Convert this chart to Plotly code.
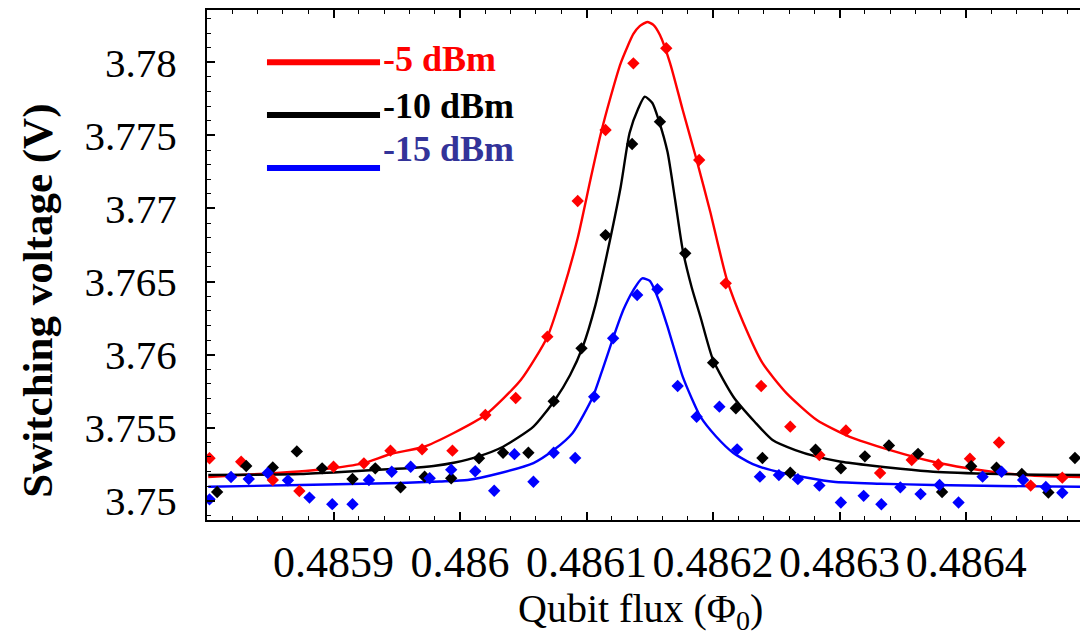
import plotly.graph_objects as go

# ---- measured switching voltages (V) vs qubit flux (Phi_0) ----
flux_m5 = [0.485802, 0.485827, 0.485852, 0.485873, 0.485900, 0.485924, 0.485945, 0.485970,
           0.485994, 0.486020, 0.486044, 0.486069, 0.486093, 0.486115, 0.486137, 0.486163,
           0.486189, 0.486210, 0.486238, 0.486261, 0.486284, 0.486305, 0.486332, 0.486357,
           0.486378, 0.486403, 0.486426, 0.486451, 0.486476]
volt_m5 = [3.75291, 3.75267, 3.75142, 3.75067, 3.75233, 3.75256, 3.75343, 3.75352,
           3.75343, 3.75587, 3.75703, 3.76123, 3.77051, 3.77537, 3.77993, 3.78096,
           3.77332, 3.76488, 3.75785, 3.75507, 3.75313, 3.75481, 3.75190, 3.75279,
           3.75248, 3.75288, 3.75399, 3.75104, 3.75158]

flux_m10 = [0.485808, 0.485831, 0.485852, 0.485871, 0.485891, 0.485915, 0.485933, 0.485953,
            0.485972, 0.485993, 0.486015, 0.486034, 0.486054, 0.486074, 0.486096, 0.486115,
            0.486136, 0.486158, 0.486178, 0.486200, 0.486218, 0.486239, 0.486261, 0.486281,
            0.486301, 0.486320, 0.486339, 0.486362, 0.486381, 0.486404, 0.486424, 0.486444,
            0.486465, 0.486486]
volt_m10 = [3.75060, 3.75238, 3.75228, 3.75338, 3.75222, 3.75149, 3.75222, 3.75092,
            3.75165, 3.75154, 3.75291, 3.75329, 3.75329, 3.75681, 3.76043, 3.76818,
            3.77441, 3.77594, 3.76693, 3.75945, 3.75633, 3.75293, 3.75192, 3.75349,
            3.75222, 3.75304, 3.75378, 3.75321, 3.75060, 3.75236, 3.75226, 3.75183,
            3.75057, 3.75293]

flux_m15 = [0.485802, 0.485819, 0.485833, 0.485848, 0.485864, 0.485881, 0.485899, 0.485915,
            0.485928, 0.485946, 0.485961, 0.485976, 0.485993, 0.486012, 0.486027, 0.486043,
            0.486058, 0.486074, 0.486091, 0.486106, 0.486121, 0.486140, 0.486156, 0.486172,
            0.486187, 0.486205, 0.486219, 0.486237, 0.486252, 0.486267, 0.486284, 0.486301,
            0.486319, 0.486333, 0.486348, 0.486364, 0.486379, 0.486394, 0.486413, 0.486428,
            0.486445, 0.486463, 0.486476]
volt_m15 = [3.75010, 3.75163, 3.75149, 3.75190, 3.75140, 3.75022, 3.74977, 3.74977,
            3.75142, 3.75199, 3.75233, 3.75154, 3.75213, 3.75202, 3.75069, 3.75319,
            3.75130, 3.75329, 3.75293, 3.75712, 3.76112, 3.76408, 3.76447, 3.75785,
            3.75575, 3.75644, 3.75352, 3.75165, 3.75176, 3.75148, 3.75104, 3.74988,
            3.75034, 3.74976, 3.75092, 3.75046, 3.75108, 3.74988, 3.75165, 3.75199,
            3.75142, 3.75094, 3.75055]

# ---- fitted resonance curves, sampled along the flux axis ----
fit_flux_m5 = [0.485801, 0.485834, 0.485858, 0.485882, 0.485900, 0.485924, 0.485945, 0.485971,
               0.485995, 0.486020, 0.486048, 0.486069, 0.486081, 0.486093, 0.486103, 0.486111,
               0.486119, 0.486127, 0.486137, 0.486142, 0.486148, 0.486153, 0.486158, 0.486166,
               0.486176, 0.486187, 0.486198, 0.486204, 0.486211, 0.486224, 0.486239, 0.486258,
               0.486282, 0.486308, 0.486340, 0.486374, 0.486400, 0.486426, 0.486452, 0.486490]
fit_volt_m5 = [3.75163, 3.75180, 3.75192, 3.75207, 3.75224, 3.75258, 3.75320, 3.75368,
               3.75464, 3.75587, 3.75826, 3.76121, 3.76428, 3.76798, 3.77195, 3.77503,
               3.77763, 3.77995, 3.78194, 3.78248, 3.78276, 3.78255, 3.78187, 3.77995,
               3.77674, 3.77332, 3.76969, 3.76750, 3.76511, 3.76216, 3.75943, 3.75737,
               3.75553, 3.75438, 3.75347, 3.75267, 3.75224, 3.75193, 3.75173, 3.75163]

fit_flux_m10 = [0.485801, 0.485834, 0.485874, 0.485906, 0.485932, 0.485961, 0.485979, 0.485996,
                0.486014, 0.486034, 0.486058, 0.486075, 0.486087, 0.486097, 0.486107, 0.486116,
                0.486127, 0.486134, 0.486141, 0.486146, 0.486152, 0.486157, 0.486164, 0.486170,
                0.486176, 0.486183, 0.486190, 0.486200, 0.486216, 0.486233, 0.486247, 0.486265,
                0.486282, 0.486300, 0.486321, 0.486348, 0.486374, 0.486426, 0.486458, 0.486490]
fit_volt_m10 = [3.75176, 3.75178, 3.75183, 3.75197, 3.75211, 3.75224, 3.75238, 3.75262,
                3.75302, 3.75370, 3.75507, 3.75690, 3.75861, 3.76054, 3.76339, 3.76682,
                3.77149, 3.77516, 3.77687, 3.77765, 3.77722, 3.77605, 3.77386, 3.77058,
                3.76716, 3.76463, 3.76259, 3.75963, 3.75712, 3.75539, 3.75416, 3.75347,
                3.75302, 3.75269, 3.75245, 3.75219, 3.75199, 3.75183, 3.75178, 3.75176]

fit_flux_m15 = [0.485801, 0.485874, 0.485953, 0.485984, 0.486006, 0.486032, 0.486058, 0.486074,
                0.486089, 0.486105, 0.486113, 0.486121, 0.486129, 0.486137, 0.486144, 0.486150,
                0.486157, 0.486164, 0.486170, 0.486176, 0.486183, 0.486190, 0.486202, 0.486216,
                0.486233, 0.486255, 0.486295, 0.486332, 0.486374, 0.486426, 0.486490]
fit_volt_m15 = [3.75096, 3.75108, 3.75122, 3.75132, 3.75142, 3.75190, 3.75258, 3.75347,
                3.75464, 3.75712, 3.75908, 3.76114, 3.76305, 3.76442, 3.76522, 3.76504,
                3.76374, 3.76191, 3.76018, 3.75849, 3.75703, 3.75575, 3.75443, 3.75327,
                3.75245, 3.75190, 3.75130, 3.75117, 3.75108, 3.75101, 3.75096]

# ---- axis ticks ----
x_tickvals = [0.4859, 0.4860, 0.4861, 0.4862, 0.4863, 0.4864]
x_ticktext = ["0.4859", "0.486", "0.4861", "0.4862", "0.4863", "0.4864"]
y_tickvals = [3.750, 3.755, 3.760, 3.765, 3.770, 3.775, 3.780]
y_ticktext = ["3.75", "3.755", "3.76", "3.765", "3.77", "3.775", "3.78"]

series = [
    ("-5 dBm", "#ff0000", "#ff0000", fit_flux_m5, fit_volt_m5, flux_m5, volt_m5),
    ("-10 dBm", "#000000", "#000000", fit_flux_m10, fit_volt_m10, flux_m10, volt_m10),
    ("-15 dBm", "#0000ff", "#333399", fit_flux_m15, fit_volt_m15, flux_m15, volt_m15),
]

SERIF = "Liberation Serif, Times New Roman, serif"

fig = go.Figure()
for name, color, _, fx, fy, _, _ in series:
    fig.add_trace(go.Scatter(x=fx, y=fy, mode="lines", name=name + " fit",
                             line=dict(color=color, width=2.4, shape="spline", smoothing=0.6),
                             showlegend=False, hoverinfo="skip"))
for name, color, _, _, _, mx, my in series:
    fig.add_trace(go.Scatter(x=mx, y=my, mode="markers", name=name,
                             marker=dict(symbol="diamond", size=9.5, color=color, line=dict(width=0)),
                             showlegend=False))

# legend: coloured bar followed by a bold label
legend_rows = [(0.8975, 0.904), (0.7941, 0.811), (0.6902, 0.728)]
for (name, color, tcolor, *_), (yl, yt) in zip(series, legend_rows):
    fig.add_shape(type="line", xref="paper", yref="paper", x0=0.0687, x1=0.1982, y0=yl, y1=yl,
                  line=dict(color=color, width=6))
    fig.add_annotation(xref="paper", yref="paper", x=0.199, y=yt, xanchor="left", yanchor="middle",
                       text="<b>%s</b>" % name, showarrow=False,
                       font=dict(family=SERIF, size=36, color=tcolor))

fig.add_annotation(xref="paper", yref="paper", x=-0.1936, y=0.43, textangle=-90,
                   text="<b>Switching voltage (V)</b>", showarrow=False,
                   xanchor="center", yanchor="middle",
                   font=dict(family=SERIF, size=43, color="black"))
fig.add_annotation(xref="paper", yref="paper", x=0.496, y=-0.178,
                   text="Qubit flux (\u03a6<sub>0</sub>)", showarrow=False,
                   xanchor="center", yanchor="middle",
                   font=dict(family=SERIF, size=40, color="black"))

fig.update_layout(
    width=1080, height=635,
    margin=dict(l=207, r=0, t=10, b=115),
    paper_bgcolor="white", plot_bgcolor="white",
    font=dict(family=SERIF, color="black"),
    showlegend=False,
)
fig.update_xaxes(
    range=[0.4858, 0.48649], showgrid=False, zeroline=False,
    showline=True, linecolor="black", linewidth=2, mirror="ticks",
    tickmode="array", tickvals=x_tickvals, ticktext=x_ticktext, tickangle=0,
    ticks="inside", ticklen=8, tickwidth=1.5, tickcolor="black",
    tickfont=dict(family=SERIF, size=44, color="black"), ticklabelstandoff=2,
    minor=dict(tick0=0.4858, dtick=0.00002, ticks="inside", ticklen=4, tickwidth=1.2,
               tickcolor="black", showgrid=False),
)
fig.update_yaxes(
    range=[3.748685, 3.78358], showgrid=False, zeroline=False,
    showline=True, linecolor="black", linewidth=2,
    tickmode="array", tickvals=y_tickvals, ticktext=y_ticktext,
    ticks="inside", ticklen=8, tickwidth=1.5, tickcolor="black",
    tickfont=dict(family=SERIF, size=41, color="black"), ticklabelstandoff=20,
    minor=dict(tick0=3.75, dtick=0.001, ticks="inside", ticklen=4, tickwidth=1.2,
               tickcolor="black", showgrid=False),
)

fig.write_html("out.html")
